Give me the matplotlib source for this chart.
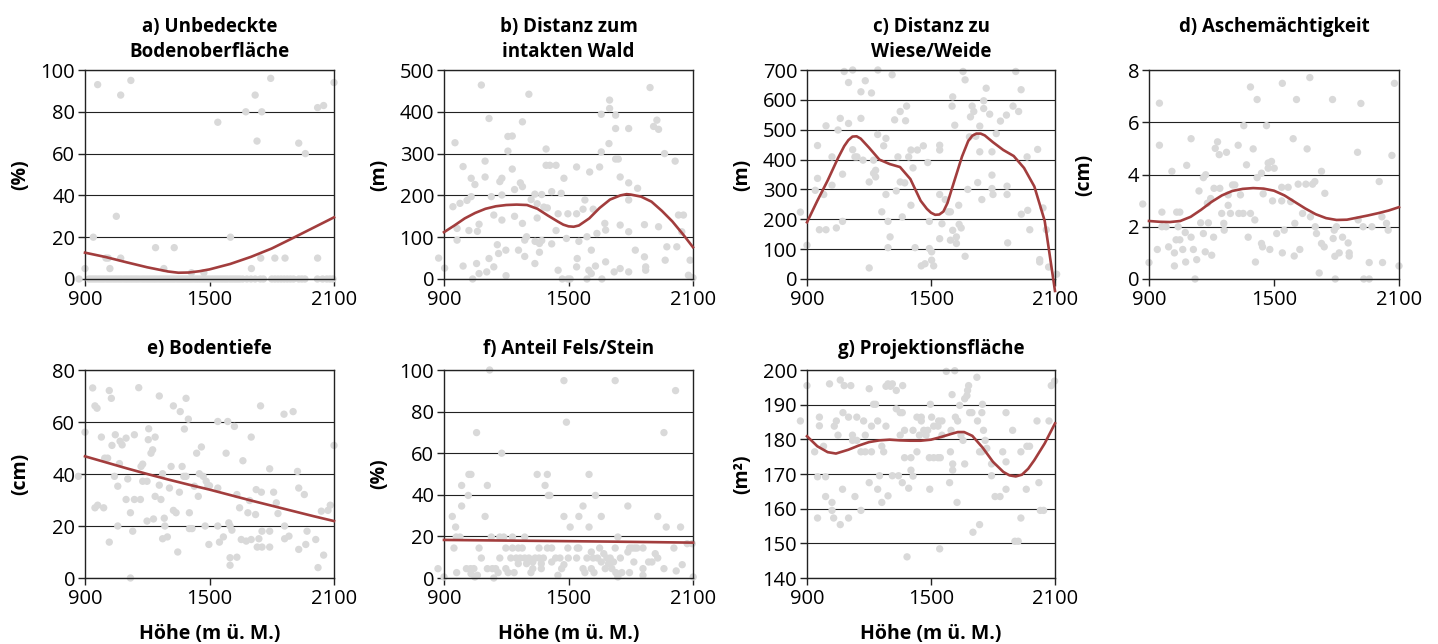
import numpy as np
import matplotlib.pyplot as plt

plt.rcParams['font.family'] = ['Open Sans', 'DejaVu Sans']

W, H = 1438, 644

# ---------------- data ----------------
# a) Unbedeckte Bodenoberflaeche (%)
a_zero_x = [871, 918, 930, 942, 954, 966, 978, 990, 1003, 1015, 1027, 1039, 1051, 1063,
            1075, 1088, 1100, 1112, 1124, 1136, 1148, 1160, 1173, 1185, 1197, 1209, 1221,
            1233, 1245, 1258, 1270, 1282, 1294, 1306, 1318, 1330, 1343, 1355, 1367, 1379,
            1391, 1403, 1415, 1428, 1440, 1452, 1464, 1476, 1488, 1500, 1513, 1525, 1537,
            1549, 1561, 1573, 1585, 1598, 1610, 1622, 1634, 1646, 1660, 1680, 1700, 1720,
            1745, 1760, 1800, 1815, 1830, 1845, 1860, 1875, 1890, 1905, 1930, 1945, 1960,
            2020, 2045, 2065, 2080, 2095]
a_x = [900, 961, 940, 1001, 1012, 1020, 1051, 1072, 1072, 1121, 1240, 1280, 1330, 1413,
       1473, 1540, 1601, 1675, 1702, 1720, 1729, 1747, 1752, 1795, 1815, 1864, 1930, 1962,
       2021, 2021, 2050, 2100] + a_zero_x
a_y = [5, 93, 20, 10, 10, 5, 30, 88, 10, 95, 15, 5, 15, 3, 3, 75, 20, 80, 5, 88, 66, 10,
       80, 96, 10, 10, 65, 60, 10, 82, 83, 94] + [0] * len(a_zero_x)
a_cx = [900, 1000, 1100, 1200, 1300, 1350, 1400, 1450, 1500, 1600, 1700, 1800, 1900, 2000,
        2100]
a_cy = [12.6, 10.5, 8.0, 5.6, 3.6, 3.0, 3.1, 3.7, 4.6, 7.2, 10.6, 14.6, 19.5, 24.5, 29.5]

# b) Distanz zum intakten Wald (m)
b_x = [874, 903, 943, 953, 963, 963, 992, 992, 977, 1011, 1020, 1031, 1031, 1038, 1049,
       1057, 1061, 1069, 1069, 1080, 1098, 1098, 1117, 1117, 1106, 1128, 1140, 1140, 1157,
       1163, 1169, 1179, 1179, 1179, 1198, 1199, 1208, 1208, 1229, 1229, 1240, 1240, 1259,
       1268, 1278, 1278, 1278, 1289, 1289, 1298, 1309, 1320, 1338, 1338, 1339, 1349, 1349,
       1360, 1360, 1371, 1371, 1381, 1392, 1392, 1398, 1410, 1419, 1419, 1440, 1440, 1450,
       1450, 1465, 1470, 1478, 1490, 1497, 1497, 1508, 1539, 1539, 1539, 1542, 1550, 1570,
       1579, 1589, 1589, 1598, 1602, 1610, 1610, 1619, 1630, 1637, 1650, 1658, 1658, 1661,
       1675, 1679, 1679, 1695, 1698, 1698, 1720, 1727, 1727, 1727, 1740, 1749, 1749, 1749,
       1790, 1790, 1790, 1790, 1790, 1822, 1833, 1866, 1872, 1872, 1866, 1893, 1910, 1926,
       1934, 1934, 1963, 1966, 1974, 2014, 2022, 2030, 2054, 2046, 2078, 2086, 2100]
b_y = [50, 26, 173, 326, 121, 93, 31, 269, 181, 188, 116, 197, 241, 0, 226, 37, 114, 13,
       131, 464, 282, 244, 384, 49, 17, 197, 153, 29, 82, 61, 233, 241, 141, 201, 69, 8,
       306, 341, 342, 263, 214, 150, 69, 230, 221, 376, 133, 93, 54, 101, 442, 190, 37, 203,
       90, 146, 180, 64, 85, 92, 202, 172, 311, 272, 170, 272, 84, 209, 116, 272, 156, 21,
       205, 0, 241, 97, 0, 156, 0, 268, 156, 29, 49, 90, 167, 189, 101, 0, 21, 256, 69, 13,
       167, 31, 109, 268, 304, 394, 0, 133, 117, 41, 324, 428, 408, 17, 392, 360, 287, 287,
       244, 25, 129, 113, 360, 17, 230, 189, 69, 217, 53, 21, 29, 130, 458, 365, 380, 358,
       125, 300, 45, 77, 282, 77, 153, 153, 113, 9, 45, 3]
b_cx = [900, 950, 1000, 1050, 1100, 1150, 1200, 1250, 1300, 1350, 1400, 1450, 1475, 1500,
        1525, 1550, 1600, 1650, 1700, 1750, 1780, 1800, 1850, 1900, 1950, 2000, 2050, 2100]
b_cy = [112, 128, 145, 158, 168, 174, 177, 178, 177, 168, 152, 137, 130, 126, 125, 128,
        145, 170, 190, 200, 203, 202, 197, 185, 163, 138, 108, 76]

# c) Distanz zu Wiese/Weide (m)
c_x = [868, 900, 940, 951, 951, 960, 981, 992, 992, 1021, 1021, 1042, 1050, 1061, 1072,
       1072, 1080, 1101, 1101, 1121, 1121, 1132, 1142, 1161, 1161, 1171, 1182, 1201, 1201,
       1212, 1222, 1222, 1232, 1232, 1242, 1243, 1262, 1271, 1282, 1282, 1292, 1292, 1302,
       1312, 1324, 1332, 1340, 1351, 1351, 1361, 1373, 1377, 1382, 1392, 1403, 1403, 1413,
       1423, 1434, 1453, 1463, 1471, 1484, 1492, 1492, 1503, 1503, 1513, 1542, 1542, 1542,
       1542, 1553, 1569, 1584, 1594, 1594, 1602, 1605, 1605, 1615, 1623, 1623, 1634, 1636,
       1646, 1655, 1665, 1665, 1678, 1686, 1691, 1699, 1707, 1717, 1726, 1736, 1736, 1746,
       1755, 1755, 1767, 1784, 1795, 1795, 1795, 1800, 1816, 1836, 1865, 1868, 1868, 1871,
       1897, 1910, 1924, 1936, 1937, 1965, 1968, 1978, 2016, 2026, 2026, 2042, 2058, 2069,
       2108]
c_y = [224, 113, 297, 337, 447, 165, 283, 165, 513, 314, 409, 171, 499, 538, 351, 193,
       695, 658, 521, 700, 433, 409, 409, 538, 627, 398, 664, 37, 325, 623, 398, 354, 364,
       342, 484, 700, 225, 446, 283, 471, 193, 105, 141, 684, 533, 295, 409, 325, 561, 208,
       322, 530, 579, 409, 432, 247, 372, 105, 432, 44, 446, 51, 390, 193, 102, 91, 63, 44,
       448, 432, 283, 135, 185, 266, 225, 225, 130, 579, 610, 163, 515, 141, 119, 247, 183,
       171, 695, 667, 76, 300, 476, 543, 579, 561, 478, 323, 426, 512, 266, 597, 571, 639,
       552, 348, 426, 303, 283, 487, 529, 549, 283, 311, 121, 579, 695, 561, 634, 217, 409,
       230, 165, 434, 65, 57, 238, 165, 40, 16]
c_cx = [900, 950, 1000, 1050, 1080, 1100, 1120, 1140, 1160, 1200, 1250, 1300, 1350, 1400,
        1450, 1480, 1500, 1520, 1540, 1560, 1580, 1600, 1650, 1680, 1700, 1720, 1740, 1760,
        1800, 1850, 1900, 1950, 2000, 2050, 2100]
c_cy = [190, 262, 330, 405, 445, 465, 477, 478, 470, 440, 400, 385, 375, 335, 262, 235,
        222, 215, 216, 226, 255, 300, 410, 462, 480, 487, 487, 481, 458, 432, 412, 372, 310,
        195, -40]

# d) Aschemaechtigkeit (cm)
d_x = [870, 900, 940, 950, 950, 962, 962, 982, 994, 1010, 1022, 1022, 1030, 1033, 1048,
       1048, 1040, 1062, 1074, 1076, 1081, 1102, 1102, 1113, 1121, 1129, 1140, 1148, 1161,
       1161, 1170, 1172, 1180, 1185, 1196, 1201, 1210, 1212, 1218, 1229, 1237, 1240, 1249,
       1259, 1261, 1272, 1280, 1280, 1291, 1301, 1312, 1328, 1331, 1339, 1352, 1355, 1368,
       1376, 1387, 1387, 1400, 1408, 1411, 1419, 1419, 1440, 1440, 1445, 1448, 1464, 1472,
       1472, 1480, 1488, 1493, 1501, 1513, 1537, 1537, 1540, 1540, 1549, 1568, 1580, 1592,
       1597, 1600, 1608, 1616, 1624, 1637, 1653, 1659, 1672, 1675, 1685, 1696, 1698, 1704,
       1717, 1728, 1728, 1741, 1744, 1781, 1784, 1789, 1792, 1794, 1800, 1813, 1829, 1856,
       1861, 1861, 1901, 1904, 1917, 1928, 1931, 1957, 1957, 1970, 2005, 2018, 2021, 2040,
       2048, 2066, 2078, 2100]
d_y = [2.87, 0.63, 1.13, 6.73, 5.12, 2.56, 2.0, 2.0, 1.23, 4.12, 1.0, 0.5, 1.5, 2.56,
       2.56, 1.5, 2.0, 1.13, 1.78, 0.65, 4.35, 1.6, 5.37, 1.13, 0.0, 0.74, 3.37, 2.15, 1.74,
       3.88, 1.04, 3.99, 2.9, 2.15, 3.08, 0.91, 1.6, 3.47, 5.0, 5.25, 4.76, 3.47, 2.51, 2.13,
       1.87, 4.85, 2.82, 3.22, 2.51, 3.6, 3.6, 5.12, 2.51, 3.22, 2.51, 5.87, 4.37, 1.6, 7.35,
       2.51, 4.98, 2.26, 0.65, 6.87, 3.88, 4.05, 1.36, 1.23, 3.26, 5.87, 4.44, 4.24, 1.13,
       4.5, 2.99, 4.24, 1.74, 3.51, 2.99, 7.49, 1.0, 1.87, 3.51, 2.96, 5.37, 0.88, 2.13,
       6.87, 3.63, 1.13, 2.51, 3.63, 4.98, 7.71, 2.38, 3.63, 3.73, 2.0, 1.74, 0.23, 4.12,
       1.36, 1.23, 3.28, 6.87, 1.55, 1.87, 0.87, 0.0, 2.0, 1.0, 1.6, 1.38, 1.0, 0.88, 4.85,
       2.26, 6.72, 2.0, 0.0, 0.63, 0.0, 2.0, 3.73, 2.38, 0.63, 2.13, 1.87, 4.73, 7.49, 0.5]
d_cx = [900, 950, 1000, 1050, 1100, 1150, 1200, 1250, 1300, 1350, 1400, 1450, 1500, 1550,
        1600, 1650, 1700, 1750, 1800, 1850, 1900, 1950, 2000, 2050, 2100]
d_cy = [2.22, 2.19, 2.18, 2.22, 2.38, 2.65, 2.95, 3.2, 3.37, 3.45, 3.48, 3.46, 3.38, 3.2,
        2.95, 2.7, 2.48, 2.33, 2.26, 2.27, 2.35, 2.43, 2.52, 2.62, 2.75]

# e) Bodentiefe (cm)
e_x = [868, 900, 937, 948, 958, 948, 961, 979, 990, 995, 1009, 1017, 1017, 1027, 1030,
       1046, 1042, 1058, 1058, 1066, 1069, 1079, 1098, 1098, 1106, 1119, 1119, 1130, 1138,
       1138, 1159, 1167, 1170, 1178, 1178, 1199, 1199, 1205, 1207, 1218, 1226, 1230, 1238,
       1238, 1258, 1258, 1266, 1274, 1274, 1282, 1285, 1297, 1307, 1315, 1326, 1326, 1339,
       1347, 1355, 1359, 1368, 1376, 1379, 1387, 1387, 1398, 1403, 1403, 1416, 1427, 1438,
       1446, 1451, 1461, 1470, 1479, 1484, 1492, 1497, 1500, 1540, 1540, 1540, 1548, 1567,
       1580, 1588, 1593, 1599, 1599, 1599, 1608, 1620, 1632, 1632, 1645, 1653, 1661, 1677,
       1685, 1693, 1701, 1701, 1722, 1725, 1730, 1738, 1746, 1750, 1753, 1753, 1790, 1790,
       1790, 1809, 1822, 1830, 1859, 1862, 1862, 1883, 1903, 1924, 1930, 1930, 1957, 1964,
       1970, 2012, 2023, 2039, 2050, 2071, 2082, 2100]
e_y = [39.1, 56.1, 73.1, 66.2, 65.3, 27, 28, 54.2, 27, 46.1, 46.1, 72.1, 13.8, 69.1, 51,
       55.1, 39.1, 35.3, 20, 44, 52.6, 51.2, 53.8, 30.2, 38.1, 25.1, 0, 18, 55.1, 30.2,
       73.2, 30.2, 42.9, 43.8, 37.2, 37.2, 21.9, 53.2, 57.4, 48, 49.3, 22.7, 31.4, 54.2,
       70, 35.7, 30.2, 40.1, 15.1, 23, 20, 15.8, 34.6, 42.9, 66.2, 26, 25.1, 10, 33, 64,
       42.9, 39.1, 57.3, 69.1, 39.1, 61.1, 25.1, 19, 19, 35.3, 48, 31.4, 40.1, 50.4, 39.1,
       20, 37.2, 35.5, 12.9, 35.5, 60.2, 34.6, 20, 13.8, 15.8, 48, 60.2, 21.2, 20, 4.9, 7.8,
       18.4, 58.3, 8, 32.1, 27, 14.8, 45.1, 14.2, 25.1, 29.8, 54.2, 14.8, 24.4, 34, 11.9,
       15.1, 66.2, 33, 18, 11.9, 42, 18, 11.9, 33, 28.9, 24.8, 63, 20, 15.1, 16.1, 64, 41,
       34.6, 11, 32.1, 12.9, 18, 14.8, 4, 25.7, 8.8, 26, 28, 51]
e_cx = [900, 1000, 1100, 1200, 1300, 1400, 1500, 1600, 1700, 1800, 1900, 2000, 2100]
e_cy = [46.8, 44.5, 42.2, 40.0, 37.9, 35.9, 34.0, 31.9, 29.8, 27.8, 25.8, 23.8, 21.9]

# f) Anteil Fels/Stein (%)
f_x = [871, 900, 940, 948, 956, 959, 961, 977, 985, 985, 1008, 1017, 1020, 1030, 1028,
       1030, 1044, 1049, 1057, 1061, 1069, 1080, 1098, 1109, 1109, 1120, 1128, 1133, 1140,
       1149, 1161, 1169, 1169, 1178, 1188, 1198, 1198, 1209, 1222, 1230, 1230, 1238, 1248,
       1258, 1258, 1267, 1277, 1289, 1289, 1298, 1309, 1319, 1328, 1328, 1339, 1349, 1358,
       1358, 1369, 1369, 1379, 1387, 1398, 1398, 1403, 1410, 1419, 1419, 1438, 1449, 1459,
       1467, 1478, 1478, 1478, 1490, 1497, 1499, 1508, 1539, 1542, 1550, 1550, 1570, 1570,
       1579, 1589, 1599, 1599, 1610, 1610, 1619, 1623, 1630, 1640, 1650, 1658, 1658, 1670,
       1677, 1685, 1693, 1701, 1709, 1717, 1725, 1725, 1728, 1738, 1738, 1750, 1757, 1786,
       1786, 1794, 1794, 1806, 1815, 1819, 1830, 1859, 1859, 1859, 1886, 1902, 1918, 1930,
       1930, 1960, 1960, 1971, 2008, 2016, 2019, 2040, 2048, 2072, 2096, 2101]
f_y = [4.5, 0.5, 29.6, 14.4, 24.5, 19.7, 2.6, 19.7, 44.5, 34.6, 4.5, 39.7, 49.8, 49.8,
       4.5, 2.1, 4.5, 0.5, 69.9, 1.3, 14.4, 9.6, 29.6, 44.5, 4.5, 100, 19.7, 4.5, 0, 4.5,
       2.6, 9.6, 19.7, 60, 19.7, 14.4, 4.5, 2.6, 9.6, 19.7, 14.4, 2.6, 9.6, 14.4, 6.9, 9.6,
       14.4, 19.7, 9.6, 6.9, 9.6, 2.6, 4.5, 7.7, 9.6, 49.8, 14.4, 9.6, 6.9, 4.5, 9.6, 44.5,
       14.4, 49.8, 39.7, 39.7, 14.4, 7.7, 9.6, 1.3, 9.6, 4.5, 94.9, 29.6, 6.4, 74.9, 14.4,
       9.6, 24.5, 9.6, 14.4, 14.4, 29.6, 34.6, 4.5, 2.6, 9.6, 49.8, 24.5, 12.5, 4.5, 9.6,
       2.6, 39.7, 9.6, 14.4, 29.6, 7.7, 11.7, 4.5, 9.6, 6.9, 9.6, 4.5, 7.7, 94.9, 14.4, 2.6,
       19.7, 0.5, 9.6, 2.6, 34.6, 12.5, 14.4, 2.6, 14.4, 7.7, 14.4, 14.4, 14.4, 4.5, 1.3,
       7.7, 7.7, 11.7, 29.6, 9.6, 4.5, 69.9, 24.5, 14.4, 90.1, 3.4, 24.5, 6.4, 16.5, 16.5,
       0.5]
f_cx = [900, 1300, 1700, 2100]
f_cy = [18.3, 17.9, 17.5, 17.0]

# g) Projektionsflaeche (m2)
g_x = [868, 900, 937, 951, 951, 960, 960, 980, 990, 990, 1009, 1021, 1021, 1029, 1032,
       1042, 1050, 1061, 1061, 1072, 1074, 1080, 1101, 1101, 1112, 1120, 1120, 1132, 1141,
       1141, 1161, 1161, 1174, 1182, 1182, 1201, 1201, 1212, 1212, 1222, 1232, 1242, 1242,
       1251, 1262, 1262, 1271, 1282, 1282, 1292, 1292, 1304, 1313, 1313, 1332, 1332, 1343,
       1351, 1351, 1361, 1361, 1363, 1372, 1372, 1384, 1392, 1403, 1403, 1413, 1413, 1432,
       1432, 1444, 1453, 1453, 1465, 1476, 1484, 1492, 1494, 1497, 1503, 1513, 1513, 1534,
       1534, 1537, 1542, 1545, 1553, 1553, 1574, 1590, 1594, 1597, 1602, 1605, 1605, 1615,
       1618, 1626, 1629, 1639, 1645, 1655, 1663, 1663, 1674, 1677, 1682, 1687, 1698, 1703,
       1722, 1725, 1735, 1735, 1746, 1746, 1749, 1754, 1762, 1770, 1793, 1793, 1810, 1834,
       1847, 1863, 1863, 1863, 1895, 1906, 1922, 1935, 1935, 1961, 1964, 1977, 2013, 2022,
       2029, 2045, 2071, 2082, 2098]
g_y = [185.3, 195.5, 176.4, 157.3, 169.2, 186.4, 183.9, 178, 169.2, 163.5, 196, 161.8,
       159.5, 157.3, 183.8, 185.3, 181.2, 155.4, 197.1, 165.6, 187.7, 195.5, 157.3, 186.4,
       195.5, 181.2, 179.7, 163.5, 186.4, 179.7, 159.5, 176.4, 185.3, 181.2, 176.4, 194.6,
       167.5, 183.8, 176.4, 190.1, 190.1, 185.3, 165.6, 169.5, 161.8, 178, 176.4, 183.8,
       195.3, 196, 163.7, 195.3, 196, 169.5, 194.1, 188.8, 169.5, 181.2, 187.7, 187.7, 167.5,
       195.5, 174.7, 182.6, 146.1, 165.9, 171.1, 174.7, 182.6, 169.4, 186.4, 176.4, 181.2,
       186.4, 185.3, 182.6, 181.2, 182.6, 174.7, 165.6, 190.1, 186.4, 183.8, 174.7, 174.7,
       183.8, 185.3, 148.4, 174.7, 185.3, 181.2, 199.6, 167.5, 176.4, 182.6, 192.9, 171.1,
       172.9, 199.8, 186.4, 161.8, 185.3, 189.8, 181.2, 179.7, 191.7, 172.9, 192.6, 194.1,
       195.5, 187.7, 187.7, 153.2, 197.9, 185.3, 176.4, 155.4, 187.7, 176.4, 190.1, 182.6,
       179.7, 177.4, 169.5, 172.9, 163.5, 163.5, 176.4, 187.7, 173.5, 165.6, 182.6, 150.6,
       150.6, 176.4, 157.3, 165.6, 178, 178, 185.3, 167.5, 159.5, 159.5, 185.3, 195.5, 196.8]
g_cx = [900, 950, 1000, 1040, 1100, 1150, 1200, 1250, 1300, 1350, 1400, 1450, 1500, 1550,
        1600, 1630, 1660, 1700, 1750, 1800, 1850, 1880, 1910, 1940, 1970, 2000, 2050, 2100]
g_cy = [180.9, 178.0, 176.3, 175.9, 177.0, 178.2, 179.2, 179.7, 179.9, 179.7, 179.6, 179.6,
        179.9, 180.7, 181.6, 182.1, 182.1, 181.0, 177.6, 173.5, 170.6, 169.6, 169.3, 169.8,
        171.5, 174.0, 178.8, 184.6]

titles = [["a) Unbedeckte", "Bodenoberfläche"], ["b) Distanz zum", "intakten Wald"],
          ["c) Distanz zu", "Wiese/Weide"], ["d) Aschemächtigkeit"],
          ["e) Bodentiefe"], ["f) Anteil Fels/Stein"], ["g) Projektionsfläche"]]
ylabels = ["(%)", "(m)", "(m)", "(cm)", "(cm)", "(%)", "(m²)"]
yticks = [np.arange(0, 101, 20), np.arange(0, 501, 100), np.arange(0, 701, 100),
          np.arange(0, 9, 2), np.arange(0, 81, 20), np.arange(0, 101, 20),
          np.arange(140, 201, 10)]
xticks = [900, 1500, 2100]
xlabel = "Höhe (m ü. M.)"

series = [(a_x, a_y, a_cx, a_cy), (b_x, b_y, b_cx, b_cy), (c_x, c_y, c_cx, c_cy),
          (d_x, d_y, d_cx, d_cy), (e_x, e_y, e_cx, e_cy), (f_x, f_y, f_cx, f_cy),
          (g_x, g_y, g_cx, g_cy)]

# axes boxes in pixels: left, right, top, bottom
lefts = [85, 444, 807, 1149]
widths = [249, 249, 248, 250]
rows = [(70, 279), (370, 578)]

fig = plt.figure(figsize=(W / 100, H / 100), dpi=100)

for i, (px, py, cx, cy) in enumerate(series):
    r, c = divmod(i, 4)
    top, bot = rows[r]
    ax = fig.add_axes([lefts[c] / W, 1 - bot / H, widths[c] / W, (bot - top) / H])
    ax.set_axisbelow(True)
    ax.scatter(px, py, s=28, color='#d9d9d9', edgecolors='none', clip_on=False, zorder=2)
    ax.plot(cx, cy, color='#a23d3d', lw=1.9, clip_on=False, zorder=3,
            solid_joinstyle='round')
    ax.set_xlim(900, 2100)
    ax.set_ylim(yticks[i][0], yticks[i][-1])
    ax.set_xticks(xticks)
    ax.set_yticks(yticks[i])
    ax.grid(axis='y', color='#222222', lw=0.8)
    for s in ax.spines.values():
        s.set_linewidth(1.0)
        s.set_color('#222222')
    ax.tick_params(axis='both', labelsize=14.5, length=5, width=1.0, color='#222222', pad=2)
    ax.tick_params(axis='x', pad=3)
    ax.set_ylabel(ylabels[i], fontsize=14, fontweight='bold')
    ax.yaxis.set_label_coords(-0.22, 0.5)

    xc = (lefts[c] + widths[c] / 2) / W
    if r == 0:
        bases = [32, 57]
    else:
        bases = [354]
    for line, b in zip(titles[i], bases):
        fig.text(xc, 1 - b / H, line, ha='center', va='baseline', fontsize=13.5,
                 fontweight='bold')
    if r == 1:
        fig.text(xc, 1 - 639 / H, xlabel, ha='center', va='baseline', fontsize=14,
                 fontweight='bold')

fig.savefig('out.png', dpi=100)
